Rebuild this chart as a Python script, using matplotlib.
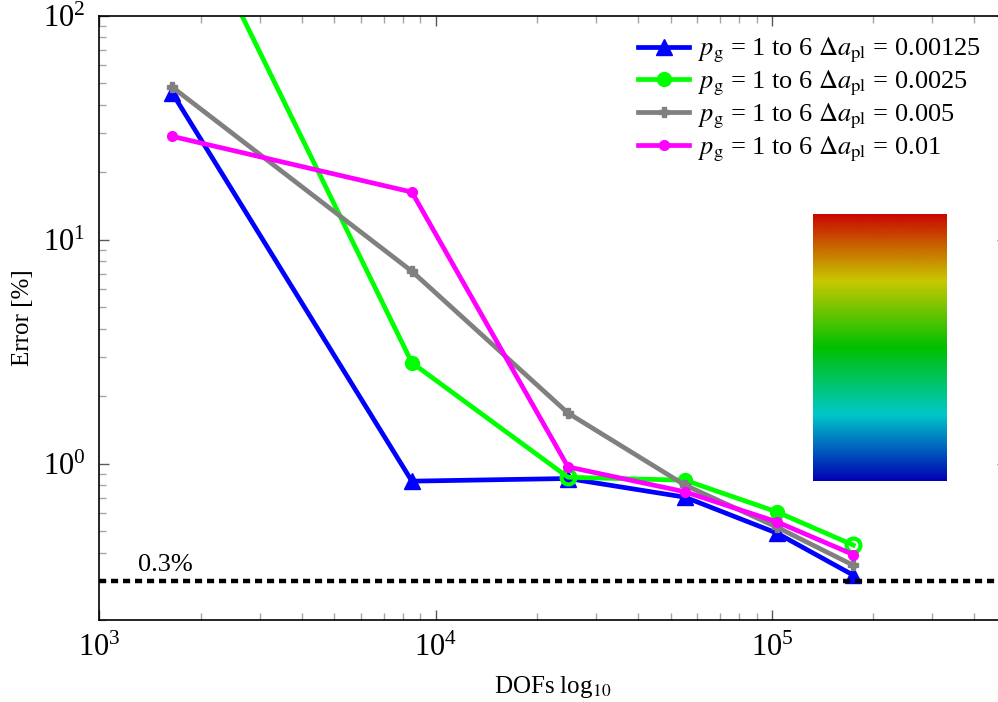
import numpy as np
import matplotlib
matplotlib.use("Agg")
import matplotlib.pyplot as plt
from matplotlib.colors import LinearSegmentedColormap
from matplotlib.ticker import LogLocator, NullFormatter

plt.rcParams['font.family'] = ['Liberation Serif', 'DejaVu Serif']
plt.rcParams['mathtext.fontset'] = 'stix'

dofs = [1650, 8500, 24750, 55200, 103400, 174600]
err_00125 = [45.0, 0.834, 0.857, 0.707, 0.489, 0.317]
err_0025 = [430.0, 2.82, 0.868, 0.842, 0.608, 0.432]
err_005 = [47.9, 7.22, 1.68, 0.80, 0.52, 0.351]
err_001 = [28.9, 16.3, 0.966, 0.747, 0.549, 0.392]
labels = [r'$p_{\rm g}$ = 1 to 6 $\Delta a_{\rm pl}$ = 0.00125',
          r'$p_{\rm g}$ = 1 to 6 $\Delta a_{\rm pl}$ = 0.0025',
          r'$p_{\rm g}$ = 1 to 6 $\Delta a_{\rm pl}$ = 0.005',
          r'$p_{\rm g}$ = 1 to 6 $\Delta a_{\rm pl}$ = 0.01']
threshold = 0.3
green_open = [2, 5]

W, H = 998, 702
fig = plt.figure(figsize=(W/100, H/100), dpi=100)
ax = fig.add_axes([99.3/W, 1-620/H, (1007-99.3)/W, (620-15.7)/H])

ax.plot(dofs, err_00125, color='#0000ff', lw=3.4, marker='^', ms=11, label=labels[0])
ax.plot(dofs, err_0025, color='#00ff00', lw=3.4, marker='o', ms=10,
        markevery=[i for i in range(len(dofs)) if i not in green_open], label=labels[1])
ax.plot([dofs[i] for i in green_open], [err_0025[i] for i in green_open], ls='none',
        marker='o', ms=10, mfc='none', mec='#00ff00', mew=3)
ax.plot(dofs, err_005, color='#808080', lw=3.4, marker='P', ms=7, label=labels[2])
ax.plot(dofs, err_001, color='#ff00ff', lw=3.4, marker='o', ms=7, label=labels[3])

ax.axhline(threshold, color='black', lw=3.2, ls=(0, (1.6, 1.1)))
ax.text(1300, 0.316, '0.3%', fontsize=19, ha='left', va='bottom')

ax.set_xscale('log')
ax.set_yscale('log')
ax.set_xlim(1e3, 5e5)
ax.set_ylim(0.2, 100)
ax.set_xlabel(r'DOFs log$_{10}$', fontsize=18, labelpad=8)
ax.set_ylabel('Error [%]', fontsize=18, labelpad=6)

ax.xaxis.set_major_locator(LogLocator(base=10, numticks=10))
ax.xaxis.set_minor_locator(LogLocator(base=10, subs=np.arange(2, 10), numticks=20))
ax.yaxis.set_minor_locator(LogLocator(base=10, subs=np.arange(2, 10), numticks=20))
ax.xaxis.set_minor_formatter(NullFormatter())
ax.yaxis.set_minor_formatter(NullFormatter())
ax.tick_params(which='both', direction='in', top=True, right=True, labelsize=22)
ax.tick_params(which='major', length=7, width=1, color='0.35', pad=10)
ax.tick_params(which='minor', length=5, width=1, color='0.65')
for s in ax.spines.values():
    s.set_linewidth(1.2)

leg = ax.legend(loc='upper left', bbox_to_anchor=((620 - 99.3)/907.7, 0.997), frameon=False,
                fontsize=19, handlelength=1.9, handletextpad=0.35, labelspacing=0.13,
                borderaxespad=0.3)

# decorative colour gradient
cax = fig.add_axes([813.3/W, 1-481/H, (947.3-813.3)/W, (481-214.3)/H])
cmap = LinearSegmentedColormap.from_list('grad', [
    (0.0, '#0000b4'), (0.25, '#00c8c8'), (0.5, '#00c000'),
    (0.75, '#c8c800'), (1.0, '#c80800')])
grad = np.linspace(0, 1, 256).reshape(-1, 1)
cax.imshow(grad, aspect='auto', cmap=cmap, origin='lower')
cax.set_axis_off()

fig.savefig('out.png', dpi=100)
